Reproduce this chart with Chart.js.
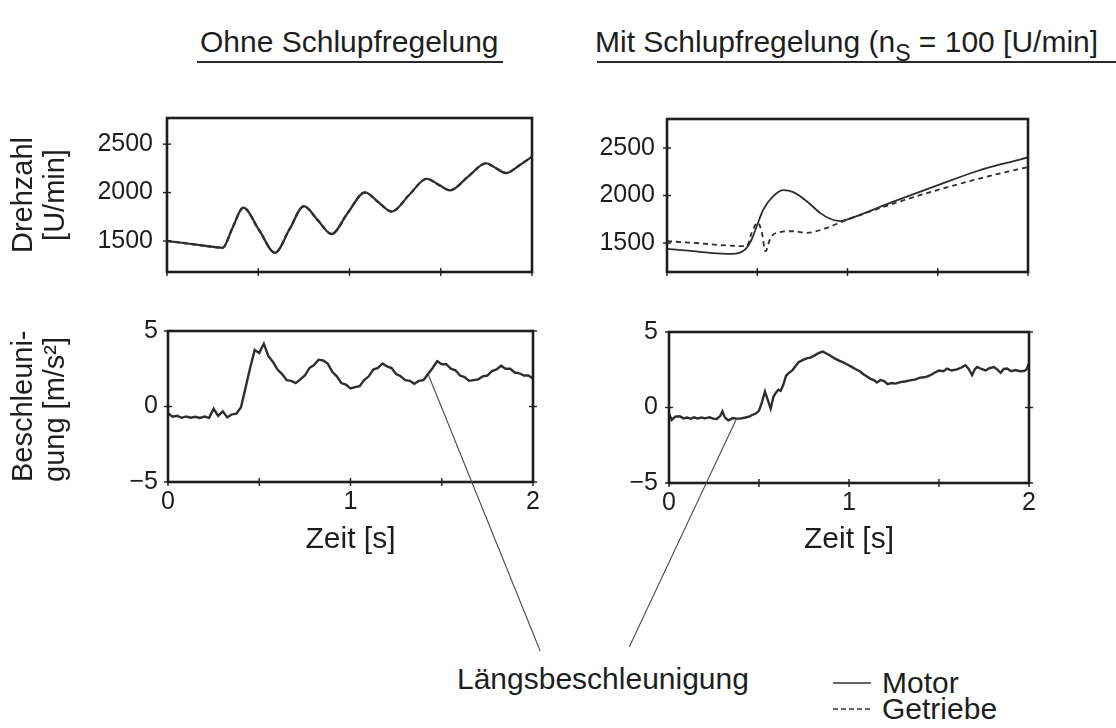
<!DOCTYPE html>
<html>
<head>
<meta charset="utf-8">
<script src="https://cdn.jsdelivr.net/npm/chart.js@4.4.1/dist/chart.umd.min.js"></script>
<style>
  html, body { margin: 0; padding: 0; background: #fff; }
  #page { position: relative; width: 1116px; height: 728px; overflow: hidden;
          font-family: "Liberation Sans", Arial, sans-serif; color: #1e1e1e; }
  .holder { position: absolute; }
  .head { position: absolute; top: 27px; font-size: 30px; line-height: 1; white-space: nowrap; }
  .head .sub { font-size: 23px; position: relative; top: 9px; }
  .rule { position: absolute; top: 61px; height: 2px; background: #2a2a2a; }
  #note { position: absolute; left: 457px; top: 664px; font-size: 30px; line-height: 1; white-space: nowrap; }
  .key { position: absolute; left: 833px; font-size: 30px; line-height: 1; white-space: nowrap;
         display: flex; align-items: center; }
  .key svg { margin-right: 11px; }
  #overlay { position: absolute; left: 0; top: 0; pointer-events: none; }
</style>
</head>
<body>
<div id="page">
  <div class="head" style="left:200px">Ohne Schlupfregelung</div>
  <div class="rule" style="left:197px;width:306px"></div>
  <div class="head" style="left:595px">Mit Schlupfregelung (n<span class="sub">S</span> = 100 [U/min]</div>
  <div class="rule" style="left:597px;width:519px"></div>

  <div class="holder" id="hTL" style="left:0px;top:90px"><canvas id="cTL" width="560" height="200"></canvas></div>
  <div class="holder" id="hTR" style="left:560px;top:90px"><canvas id="cTR" width="556" height="200"></canvas></div>
  <div class="holder" id="hBL" style="left:0px;top:300px"><canvas id="cBL" width="560" height="260"></canvas></div>
  <div class="holder" id="hBR" style="left:560px;top:300px"><canvas id="cBR" width="556" height="260"></canvas></div>

  <div id="note">Längsbeschleunigung</div>
  <div class="key" style="top:668px"><svg width="38" height="4"><line x1="0" y1="2" x2="38" y2="2" stroke="#333" stroke-width="1.5"/></svg>Motor</div>
  <div class="key" style="top:694px"><svg width="38" height="4"><line x1="0" y1="2" x2="38" y2="2" stroke="#333" stroke-width="1.5" stroke-dasharray="5 3"/></svg>Getriebe</div>

  <canvas id="overlay" width="1116" height="728"></canvas>
</div>

<script>
// ---- axis ticks ----
const X_TICKS = [0, 0.5, 1, 1.5, 2];
const N_TICKS = [1500, 2000, 2500];
const A_TICKS = [-5, 0, 5];

// ---- Drehzahl ohne Schlupfregelung [U/min] ----
const T_N_OHNE      = [0, 0.1, 0.2, 0.305, 0.36, 0.418, 0.505, 0.592, 0.671, 0.75, 0.826, 0.902, 0.99, 1.085, 1.158, 1.231, 1.327, 1.423, 1.487, 1.551, 1.65, 1.748, 1.803, 1.858, 1.93, 2.0];
const MOTOR_OHNE    = [1500, 1477, 1453, 1430, 1640, 1844, 1612, 1378, 1620, 1860, 1715, 1571, 1788, 2003, 1902, 1803, 1975, 2143, 2083, 2023, 2165, 2303, 2252, 2200, 2280, 2370];
const GETRIEBE_OHNE = [1500, 1478, 1452, 1431, 1642, 1842, 1610, 1380, 1622, 1858, 1716, 1573, 1790, 2001, 1900, 1805, 1977, 2141, 2082, 2025, 2166, 2301, 2250, 2202, 2281, 2368];

// ---- Drehzahl mit Schlupfregelung [U/min] ----
const T_MOTOR_MIT  = [0, 0.146, 0.238, 0.358, 0.432, 0.469, 0.497, 0.534, 0.589, 0.644, 0.7, 0.774, 0.848, 0.903, 0.958, 0.996, 1.254, 1.531, 1.716, 1.864, 2.0];
const MOTOR_MIT    = [1439, 1414, 1397, 1386, 1431, 1537, 1677, 1853, 1993, 2056, 2035, 1940, 1817, 1755, 1730, 1747, 1935, 2130, 2255, 2335, 2400];
const T_GETR_MIT   = [0, 0.146, 0.331, 0.442, 0.469, 0.502, 0.524, 0.546, 0.57, 0.589, 0.626, 0.7, 0.774, 0.885, 0.977, 1.254, 1.531, 1.808, 2.0];
const GETRIEBE_MIT = [1519, 1502, 1474, 1466, 1607, 1713, 1624, 1414, 1537, 1589, 1614, 1624, 1607, 1660, 1730, 1915, 2075, 2215, 2300];

// ---- Längsbeschleunigung ohne Schlupfregelung [m/s²] ----
const T_A_OHNE = [0, 0.025, 0.05, 0.075, 0.1, 0.125, 0.15, 0.175, 0.2, 0.225, 0.25, 0.275, 0.3, 0.325, 0.35, 0.375, 0.4, 0.425, 0.45, 0.475,
                  0.5, 0.525, 0.55, 0.575, 0.6, 0.625, 0.65, 0.675, 0.7, 0.725, 0.75, 0.775, 0.8, 0.825, 0.85, 0.875, 0.9, 0.925, 0.95, 0.975,
                  1, 1.025, 1.05, 1.075, 1.1, 1.125, 1.15, 1.175, 1.2, 1.225, 1.25, 1.275, 1.3, 1.325, 1.35, 1.375, 1.4, 1.425, 1.45, 1.475,
                  1.5, 1.525, 1.55, 1.575, 1.6, 1.625, 1.65, 1.675, 1.7, 1.725, 1.75, 1.775, 1.8, 1.825, 1.85, 1.875, 1.9, 1.925, 1.95, 1.975, 2];
const A_OHNE   = [-0.45, -0.68, -0.62, -0.75, -0.66, -0.74, -0.68, -0.76, -0.67, -0.75, -0.15, -0.62, -0.32, -0.72, -0.52, -0.48, -0.05, 1.25, 2.55, 3.75,
                  3.55, 4.15, 3.35, 2.95, 2.45, 2.15, 1.75, 1.7, 1.55, 1.8, 2.05, 2.55, 2.75, 3.1, 3.05, 2.85, 2.3, 2.0, 1.55, 1.45,
                  1.2, 1.28, 1.35, 1.75, 2.0, 2.45, 2.55, 2.85, 2.65, 2.55, 2.15, 2.0, 1.75, 1.7, 1.5, 1.7, 1.75, 2.15, 2.55, 3.0,
                  2.8, 2.8, 2.5, 2.4, 2.05, 1.95, 1.7, 1.75, 1.8, 2.0, 2.05, 2.35, 2.45, 2.7, 2.5, 2.5, 2.25, 2.2, 2.05, 2.05, 1.85];

// ---- Längsbeschleunigung mit Schlupfregelung [m/s²] ----
const T_A_MIT = [0, 0.015, 0.035, 0.06, 0.08, 0.1, 0.12, 0.14, 0.16, 0.18, 0.2, 0.225, 0.245, 0.265, 0.285, 0.297, 0.31, 0.329, 0.355, 0.375,
                 0.395, 0.425, 0.445, 0.465, 0.485, 0.5, 0.514, 0.533, 0.55, 0.565, 0.58, 0.595, 0.607, 0.62, 0.635, 0.65, 0.665, 0.685, 0.7, 0.72,
                 0.745, 0.765, 0.785, 0.805, 0.83, 0.855, 0.875, 0.895, 0.92, 0.945, 0.965, 0.99, 1.01, 1.035, 1.06, 1.08, 1.1, 1.12, 1.14, 1.155,
                 1.175, 1.195, 1.215, 1.235, 1.26, 1.285, 1.31, 1.34, 1.365, 1.395, 1.42, 1.45, 1.475, 1.5, 1.525, 1.545, 1.57, 1.6, 1.625, 1.647,
                 1.665, 1.684, 1.7, 1.712, 1.735, 1.759, 1.78, 1.805, 1.825, 1.842, 1.86, 1.879, 1.9, 1.926, 1.95, 1.972, 1.985, 2];
const A_MIT   = [-0.4, -0.82, -0.6, -0.58, -0.72, -0.66, -0.74, -0.65, -0.73, -0.66, -0.72, -0.65, -0.74, -0.76, -0.55, -0.25, -0.65, -0.85, -0.7, -0.74,
                 -0.74, -0.66, -0.6, -0.48, -0.38, -0.2, 0.25, 1.05, 0.45, -0.08, 0.7, 1.0, 1.18, 1.1, 1.5, 2.1, 2.28, 2.45, 2.7, 3.0,
                 3.15, 3.25, 3.3, 3.42, 3.6, 3.7, 3.58, 3.45, 3.25, 3.1, 3.0, 2.85, 2.72, 2.55, 2.4, 2.2, 2.05, 1.9, 1.8, 1.66,
                 1.82, 1.75, 1.55, 1.62, 1.58, 1.68, 1.72, 1.8, 1.85, 1.98, 2.0, 2.12, 2.3, 2.45, 2.4, 2.58, 2.45, 2.52, 2.65, 2.8,
                 2.55, 2.15, 2.55, 2.68, 2.55, 2.45, 2.6, 2.68, 2.5, 2.3, 2.55, 2.58, 2.4, 2.48, 2.4, 2.42, 2.5, 2.9];

// points where the "Längsbeschleunigung" leaders touch the curves
const LEADER_T = { ohne: 1.425, mit: 0.375 };

const FONT = '"Liberation Sans", Arial, sans-serif';
const INK = '#1e1e1e';
const CURVE = '#2e2e2e';

const pts = (t, v) => t.map((x, i) => ({ x, y: v[i] }));

// inner frame and small tick marks crossing it
const framePlugin = {
  id: 'frame',
  afterDatasetsDraw(chart, args, opts) {
    const { ctx, chartArea: a, scales: { x, y } } = chart;
    ctx.save();
    ctx.strokeStyle = INK;
    ctx.lineWidth = 2.6;
    ctx.strokeRect(a.left, a.top, a.right - a.left, a.bottom - a.top);
    ctx.lineWidth = 1.4;
    const L = 4;
    const seg = (x1, y1, x2, y2) => { ctx.beginPath(); ctx.moveTo(x1, y1); ctx.lineTo(x2, y2); ctx.stroke(); };
    x.ticks.forEach(t => {
      const px = x.getPixelForValue(t.value);
      seg(px, a.bottom - L, px, a.bottom + L);
    });
    y.ticks.forEach(t => {
      const py = y.getPixelForValue(t.value);
      seg(a.left - L, py, a.left + L, py);
      if (opts.rightTicks) seg(a.right - L, py, a.right + L, py);
    });
    ctx.restore();
  }
};

function makePanel(canvasId, box, spec) {
  const cv = document.getElementById(canvasId);
  const W = cv.width, H = cv.height;
  const zeroPad = s => { s.paddingTop = 0; s.paddingBottom = 0; s.paddingLeft = 0; s.paddingRight = 0; };
  return new Chart(cv, {
    type: 'line',
    data: { datasets: spec.datasets },
    plugins: [framePlugin],
    options: {
      responsive: false,
      animation: false,
      events: [],
      layout: { padding: { left: 0, top: box.areaTop, right: W - box.areaRight, bottom: 0 } },
      plugins: { legend: { display: false }, tooltip: { enabled: false }, frame: { rightTicks: spec.rightTicks } },
      elements: { point: { radius: 0 } },
      scales: {
        x: {
          type: 'linear', min: 0, max: 2,
          afterBuildTicks: s => { s.ticks = X_TICKS.map(v => ({ value: v })); },
          afterFit: s => { s.height = H - box.areaBottom; zeroPad(s); },
          grid: { display: false, drawTicks: false },
          border: { display: false },
          ticks: {
            display: spec.xLabels, padding: 5, autoSkip: false, maxRotation: 0,
            color: INK, font: { family: FONT, size: 25 },
            callback: v => Number.isInteger(v) ? String(v) : ''
          },
          title: {
            display: spec.xLabels, text: 'Zeit [s]', color: INK,
            font: { family: FONT, size: 30, lineHeight: 1.2 }, padding: { top: 0, bottom: 2 }
          }
        },
        y: {
          type: 'linear', min: spec.yMin, max: spec.yMax,
          afterBuildTicks: s => { s.ticks = spec.yTicks.map(v => ({ value: v })); },
          afterFit: s => { s.width = box.areaLeft; zeroPad(s); },
          grid: { display: false, drawTicks: false },
          border: { display: false },
          ticks: {
            padding: spec.yPad, color: INK, font: { family: FONT, size: 25 },
            callback: v => v < 0 ? '\u2212' + Math.abs(v) : String(v)
          },
          title: {
            display: !!spec.yTitle, text: spec.yTitle || '', color: INK, align: spec.yAlign || 'center',
            font: { family: FONT, size: 29, lineHeight: 1.1 }, padding: { top: 8, bottom: 0 }
          }
        }
      }
    }
  });
}

const solid = (label, data, w) => ({ label, data, borderColor: CURVE, borderWidth: w, tension: 0, fill: false });
const smooth = (label, data, dash, w) => ({ label, data, borderColor: CURVE, borderWidth: w, borderDash: dash,
  cubicInterpolationMode: 'monotone', fill: false });

const chTL = makePanel('cTL', { areaLeft: 167, areaTop: 28, areaRight: 532, areaBottom: 182 }, {
  yMin: 1180, yMax: 2770, yTicks: N_TICKS, yPad: 14, xLabels: false,
  yTitle: ['Drehzahl', '[U/min]'], yAlign: 'center',
  datasets: [smooth('Motor', pts(T_N_OHNE, MOTOR_OHNE), [], 2.2), smooth('Getriebe', pts(T_N_OHNE, GETRIEBE_OHNE), [5, 3], 2.2)]
});
const chTR = makePanel('cTR', { areaLeft: 107, areaTop: 29, areaRight: 468, areaBottom: 182 }, {
  yMin: 1195, yMax: 2805, yTicks: N_TICKS, yPad: 12, xLabels: false,
  datasets: [smooth('Motor', pts(T_MOTOR_MIT, MOTOR_MIT), [], 1.8), smooth('Getriebe', pts(T_GETR_MIT, GETRIEBE_MIT), [5, 4], 1.8)]
});
const chBL = makePanel('cBL', { areaLeft: 168, areaTop: 31, areaRight: 533, areaBottom: 182 }, {
  yMin: -5, yMax: 5, yTicks: A_TICKS, yPad: 10, xLabels: true, rightTicks: true,
  yTitle: ['Beschleuni-', 'gung [m/s²]'], yAlign: 'start',
  datasets: [solid('Längsbeschleunigung', pts(T_A_OHNE, A_OHNE), 2.4)]
});
const chBR = makePanel('cBR', { areaLeft: 109, areaTop: 32, areaRight: 469, areaBottom: 183 }, {
  yMin: -5, yMax: 5, yTicks: A_TICKS, yPad: 11, xLabels: true, rightTicks: true,
  datasets: [solid('Längsbeschleunigung', pts(T_A_MIT, A_MIT), 2.4)]
});

// leader lines from the label up to the two acceleration curves
(function drawLeaders() {
  const ov = document.getElementById('overlay').getContext('2d');
  const note = document.getElementById('note');
  const page = document.getElementById('page').getBoundingClientRect();
  const nr = note.getBoundingClientRect();
  const anchor = (chart, holderId, tArr, vArr, t) => {
    const i = tArr.indexOf(t);
    const h = document.getElementById(holderId);
    return [h.offsetLeft + chart.scales.x.getPixelForValue(tArr[i]),
            h.offsetTop + chart.scales.y.getPixelForValue(vArr[i])];
  };
  const a1 = anchor(chBL, 'hBL', T_A_OHNE, A_OHNE, LEADER_T.ohne);
  const a2 = anchor(chBR, 'hBR', T_A_MIT, A_MIT, LEADER_T.mit);
  const left = nr.left - page.left, top = nr.top - page.top, w = nr.width;
  const feet = [[left + 0.285 * w, top - 13], [left + 0.59 * w, top - 17]];
  ov.strokeStyle = '#4a4a4a';
  ov.lineWidth = 1.1;
  [[a1, feet[0]], [a2, feet[1]]].forEach(([p, q]) => {
    ov.beginPath(); ov.moveTo(p[0], p[1]); ov.lineTo(q[0], q[1]); ov.stroke();
  });
})();
</script>
</body>
</html>
